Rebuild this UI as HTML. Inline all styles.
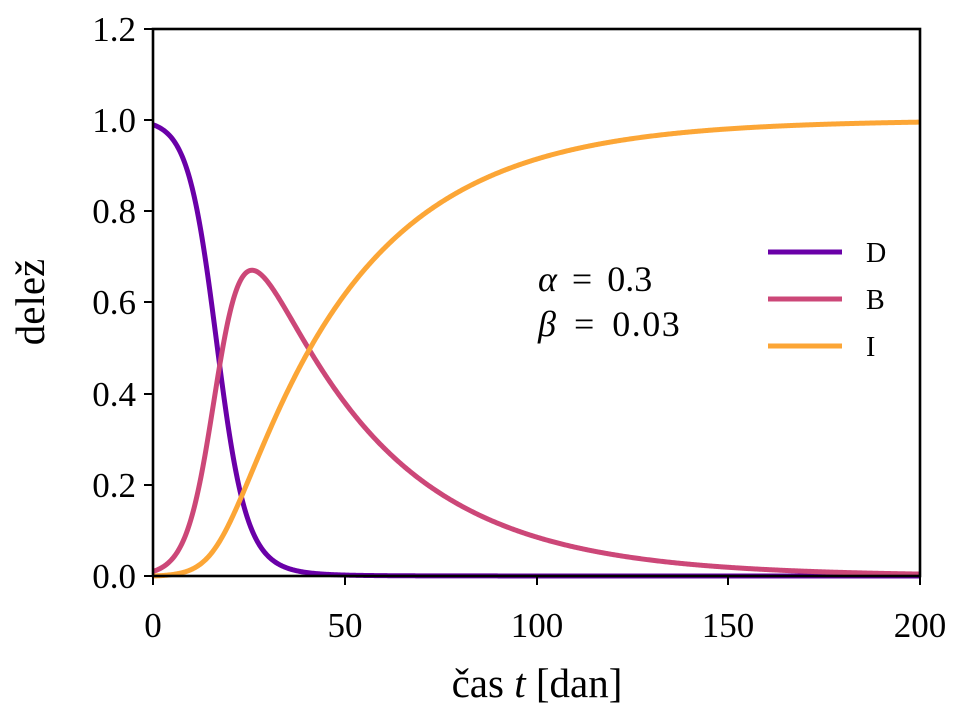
<!DOCTYPE html>
<html><head><meta charset="utf-8"><style>
html,body{margin:0;padding:0;background:#fff;}
svg{display:block;font-family:"Liberation Serif","DejaVu Serif",serif;}
</style></head><body>
<svg id="s" width="960" height="720" xmlns="http://www.w3.org/2000/svg">
<g id="curves"></g>
<rect x="153" y="29" width="767" height="547" fill="none" stroke="#000" stroke-width="2.6"/>
<g stroke="#000" stroke-width="2">
<line x1="153" y1="576" x2="153" y2="585"/><line x1="345" y1="576" x2="345" y2="585"/><line x1="537" y1="576" x2="537" y2="585"/><line x1="728" y1="576" x2="728" y2="585"/><line x1="920" y1="576" x2="920" y2="585"/>
<line x1="144" y1="576" x2="153" y2="576"/><line x1="144" y1="485" x2="153" y2="485"/><line x1="144" y1="394" x2="153" y2="394"/><line x1="144" y1="302" x2="153" y2="302"/><line x1="144" y1="211" x2="153" y2="211"/><line x1="144" y1="120" x2="153" y2="120"/><line x1="144" y1="29" x2="153" y2="29"/>
</g>
<g font-size="35" text-anchor="middle" fill="#000">
<text x="153" y="637">0</text><text x="345" y="637">50</text><text x="537" y="637">100</text><text x="728" y="637">150</text><text x="920" y="637">200</text>
</g>
<g font-size="35" text-anchor="end" fill="#000">
<text x="136" y="588">0.0</text><text x="136" y="497">0.2</text><text x="136" y="406">0.4</text><text x="136" y="314">0.6</text><text x="136" y="223">0.8</text><text x="136" y="132">1.0</text><text x="136" y="41">1.2</text>
</g>
<text x="537" y="697" font-size="41" text-anchor="middle">čas <tspan font-style="italic">t</tspan> [dan]</text>
<text transform="translate(44,302) rotate(-90)" font-size="41" text-anchor="middle">delež</text>
<text x="538" y="291" font-size="36" word-spacing="6"><tspan font-style="italic">α</tspan> = 0.3</text>
<text x="538" y="336" font-size="36" word-spacing="6" letter-spacing="1.5"><tspan font-style="italic">β</tspan> = 0.03</text>
<g stroke-width="5">
<line x1="768" y1="252" x2="842" y2="252" stroke="#6a00a8"/>
<line x1="768" y1="299" x2="842" y2="299" stroke="#cc4778"/>
<line x1="768" y1="346" x2="842" y2="346" stroke="#fca636"/>
</g>
<g font-size="28"><text x="866" y="262">D</text><text x="866" y="309">B</text><text x="866" y="356">I</text></g>
</svg>
<script>
var a=0.3,b=0.03,D=0.99,B=0.01,I=0,h=0.01;
var pd=[],pb=[],pi=[];
function X(t){return 153+t*767/200}function Y(v){return 576-v*547/1.2}
for(var k=0;k<=20000;k++){var t=k*h;
if(k%25==0){pd.push(X(t).toFixed(2)+","+Y(D).toFixed(2));pb.push(X(t).toFixed(2)+","+Y(B).toFixed(2));pi.push(X(t).toFixed(2)+","+Y(I).toFixed(2));}
function f(d,bb){return[-a*d*bb,a*d*bb-b*bb,b*bb];}
var k1=f(D,B),k2=f(D+h/2*k1[0],B+h/2*k1[1]),k3=f(D+h/2*k2[0],B+h/2*k2[1]),k4=f(D+h*k3[0],B+h*k3[1]);
D+=h/6*(k1[0]+2*k2[0]+2*k3[0]+k4[0]);B+=h/6*(k1[1]+2*k2[1]+2*k3[1]+k4[1]);I+=h/6*(k1[2]+2*k2[2]+2*k3[2]+k4[2]);}
var g=document.getElementById("curves"),ns="http://www.w3.org/2000/svg";
[[pd,"#6a00a8"],[pb,"#cc4778"],[pi,"#fca636"]].forEach(function(c){var p=document.createElementNS(ns,"polyline");p.setAttribute("points",c[0].join(" "));p.setAttribute("fill","none");p.setAttribute("stroke",c[1]);p.setAttribute("stroke-width","5");g.appendChild(p);});
</script>
</body></html>
